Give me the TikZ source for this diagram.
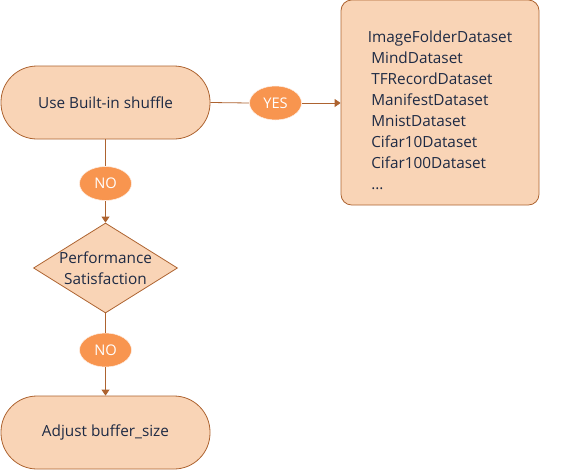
\documentclass[tikz,border=0pt]{standalone}
\usepackage{fontspec}
\setmainfont{Open Sans}
\usetikzlibrary{shapes.geometric,arrows.meta}
\definecolor{fillc}{HTML}{F9D4B6}
\definecolor{linec}{HTML}{AD6330}
\definecolor{orangec}{HTML}{F8954F}
\definecolor{textc}{HTML}{1E2A44}
\begin{document}
\begin{tikzpicture}[x=0.75pt,y=-0.75pt,
  txt/.style={text=textc, font=\fontsize{11.5}{15.75}\selectfont},
  base/.style={draw=linec, fill=fillc, line width=0.6pt, txt},
  stadium/.style={base, rounded corners=27pt, minimum width=156.75pt, minimum height=54.75pt, inner sep=0pt},
  listbox/.style={base, rounded corners=8pt, minimum width=148.5pt, minimum height=153.75pt, align=left, inner sep=0pt},
  decision/.style={base, diamond, minimum width=108pt, minimum height=67.5pt, inner sep=0pt},
  tag/.style={ellipse, fill=orangec, draw=white!85!orangec, line width=0.4pt, text=white, minimum width=39pt, minimum height=25.5pt, inner sep=0pt, font=\fontsize{11}{12}\selectfont},
  conn/.style={draw=linec, line width=0.6pt},
  arr/.style={conn, -{Triangle[length=4.5pt,width=6pt]}}
]
\useasboundingbox (0,0) rectangle (574,471);
\node[stadium] (shuffle) at (105.5,102.5) {Use Built-in shuffle};
\node[listbox] (list) at (440,102.5) {\rule{0pt}{21pt}ImageFolderDataset\\
\hspace*{2.6pt}MindDataset\\
\hspace*{2.6pt}TFRecordDataset\\
\hspace*{2.6pt}ManifestDataset\\
\hspace*{2.6pt}MnistDataset\\
\hspace*{2.6pt}Cifar10Dataset\\
\hspace*{2.6pt}Cifar100Dataset\\
\hspace*{2.6pt}...};
\node[decision, label={[txt, align=center, inner sep=0pt]center:Performance\\Satisfaction}] (perf) at (105.5,268) {};
\node[stadium] (adjust) at (105.5,432.5) {Adjust buffer\_size};
\node[tag] (yes) at (275.5,103) {YES};
\node[tag] (no1) at (105.5,183.5) {NO};
\node[tag] (no2) at (105.5,350) {NO};
\draw[conn] (shuffle.east) -- (yes.west);
\draw[arr] (yes.east) -- (list.west |- yes.east);
\draw[conn] (shuffle.south) -- (no1.north);
\draw[arr] (no1.south) -- (perf.north);
\draw[conn] (perf.south) -- (no2.north);
\draw[arr] (no2.south) -- (adjust.north);
\end{tikzpicture}
\end{document}
